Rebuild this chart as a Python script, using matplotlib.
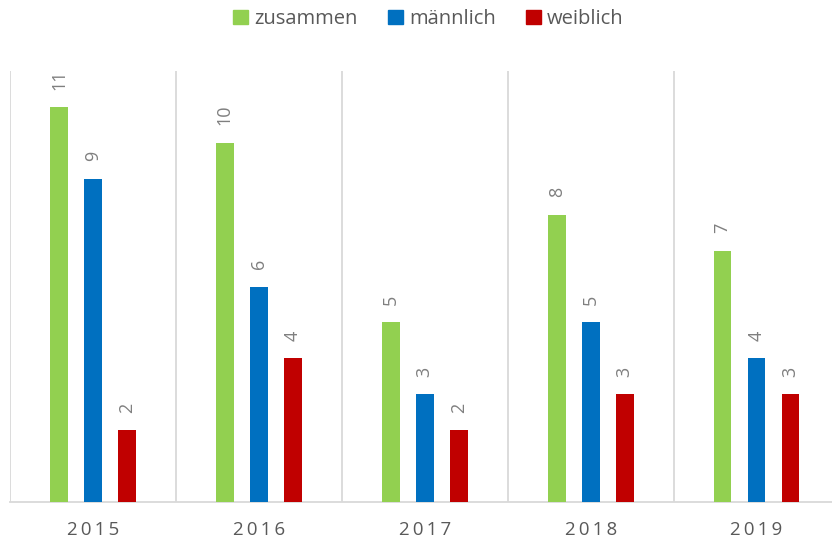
import numpy as np
import matplotlib.pyplot as plt
from matplotlib.patches import Patch

years = ["2015", "2016", "2017", "2018", "2019"]
zusammen = [11, 10, 5, 8, 7]
maennlich = [9, 6, 3, 5, 4]
weiblich = [2, 4, 2, 3, 3]
series = ["zusammen", "männlich", "weiblich"]
colors = ["#92d050", "#0070c0", "#c00000"]

plt.rcParams['font.family'] = ['Open Sans', 'DejaVu Sans']

fig = plt.figure(figsize=(8.32, 5.43), dpi=100)
W, H = 832, 543
ax = fig.add_axes([10 / W, (H - 502) / H, 822 / W, (502 - 71) / H])

x = np.arange(len(years))
off = 0.205
bw = 0.107
for vals, c, d in zip([zusammen, maennlich, weiblich], colors, [-off, 0, off]):
    bars = ax.bar(x + d, vals, bw, color=c, zorder=3)
    for b, v in zip(bars, vals):
        ax.annotate(str(v), (b.get_x() + b.get_width() / 2, v), xytext=(0, 12.5),
                    textcoords="offset points", ha="center", va="bottom",
                    rotation=90, fontsize=13, color="#7f7f7f")

ax.set_xlim(-0.5, -0.5 + 822 / 165.9)
ax.set_ylim(0, 12)
for gx in np.arange(-0.5, 4.5, 1):
    ax.axvline(gx, color="#d9d9d9", lw=1.3, zorder=1)

for s in ["top", "right", "left"]:
    ax.spines[s].set_visible(False)
ax.spines["bottom"].set_color("#d9d9d9")
ax.spines["bottom"].set_linewidth(1.3)
ax.set_yticks([])
ax.set_xticks(x)
ax.set_xticklabels(["\u2009".join(y) for y in years], fontsize=13.5, color="#595959")
ax.tick_params(axis="x", length=0, pad=14)

handles = [Patch(color=c, label=s) for c, s in zip(colors, series)]
fig.legend(handles=handles, loc="center", bbox_to_anchor=(0.515, 1 - 19 / H), ncol=3,
           frameon=False, fontsize=14.5, labelcolor="#595959", handlelength=0.75,
           handleheight=0.75, handletextpad=0.3, columnspacing=1.5)

fig.savefig("out.png", dpi=100)
